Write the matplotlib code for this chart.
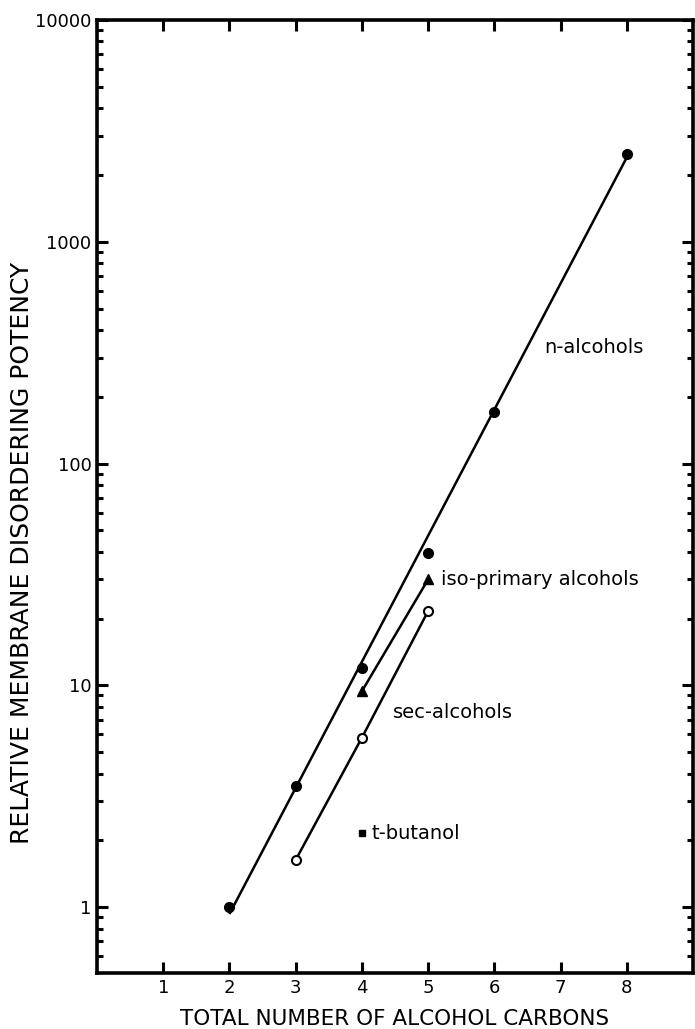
import matplotlib
matplotlib.use("Agg")
import matplotlib.pyplot as plt
from matplotlib.ticker import LogLocator, FixedLocator, NullFormatter

# ---- data ----
n_x = [2, 3, 4, 5, 6, 8]
n_y = [1.0, 3.5, 12.0, 39.5, 171, 2490]
n_fit_x = [2, 8]
n_fit_y = [0.93, 2400]

iso_x = [4, 5]
iso_y = [9.4, 30]

sec_x = [3, 4, 5]
sec_y = [1.63, 5.8, 21.6]

tbut_x = [4]
tbut_y = [2.16]

xticks = [1, 2, 3, 4, 5, 6, 7, 8]
yticks = [1, 10, 100, 1000, 10000]
ytick_labels = ["1", "10", "100", "1000", "10000"]

plt.rcParams['font.family'] = ['DejaVu Sans']

fig = plt.figure(figsize=(6.95, 10.29), dpi=100)
ax = fig.add_axes([97/695, 1-973/1029, (693-97)/695, (973-20)/1029])

lw = 1.8
ax.plot(n_fit_x, n_fit_y, color='black', lw=lw, solid_capstyle='butt')
ax.plot(n_x, n_y, 'o', color='black', ms=7)
ax.plot(iso_x, iso_y, '-', color='black', lw=lw)
ax.plot(iso_x, iso_y, '^', color='black', ms=7)
ax.plot(sec_x, sec_y, '-', color='black', lw=lw)
ax.plot(sec_x, sec_y, 'o', mfc='white', mec='black', mew=1.5, ms=6.5)
ax.plot(tbut_x, tbut_y, 's', color='black', ms=5)

ax.set_yscale('log')
ax.set_xlim(0, 9)
ax.set_ylim(0.504, 10000)

ax.xaxis.set_major_locator(FixedLocator(xticks))
ax.set_xticklabels([str(t) for t in xticks], fontsize=13)
ax.yaxis.set_major_locator(FixedLocator(yticks))
ax.set_yticklabels(ytick_labels, fontsize=13)
ax.yaxis.set_minor_locator(LogLocator(base=10, subs=range(2, 10)))
ax.yaxis.set_minor_formatter(NullFormatter())

ax.tick_params(axis='both', which='major', direction='in', length=8, width=2.2,
               top=True, right=True, pad=4)
ax.tick_params(axis='y', which='minor', direction='in', length=4, width=2.2,
               left=True, right=True)
ax.tick_params(axis='x', which='minor', bottom=False, top=False)
for s in ax.spines.values():
    s.set_linewidth(2.6)

# annotations
fs = 14
ax.text(6.75, 10**(3 - (348-242)/221.75), "n-alcohols", fontsize=fs,
        va='center', ha='left')
ax.text(5.2, 10**(1 + (686-580)/221.75), "iso-primary alcohols", fontsize=fs,
        va='center', ha='left')
ax.text(4.47, 10**(1 - (713-686)/221.75), "sec-alcohols", fontsize=fs,
        va='center', ha='left')
ax.text(4.15, 10**((907-833)/221.75), "t-butanol", fontsize=fs,
        va='center', ha='left')

fig.text(395/695, 1-1019/1029, "TOTAL NUMBER OF ALCOHOL CARBONS", fontsize=15.5,
         ha='center', va='center')
fig.text(22/695, 1-553/1029, "RELATIVE MEMBRANE DISORDERING POTENCY", fontsize=18,
         ha='center', va='center', rotation=90)

fig.savefig("out.png", dpi=100)
